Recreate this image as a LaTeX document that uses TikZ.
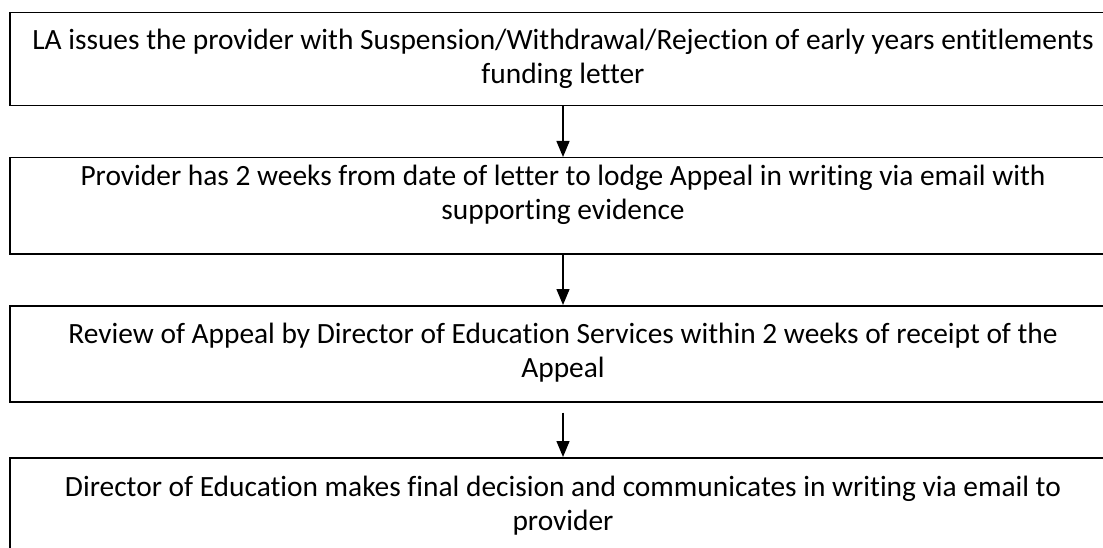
\documentclass[tikz,border=0pt]{standalone}
\usepackage{fontspec}
\setmainfont{Carlito}[Ligatures=NoCommon]
\usetikzlibrary{arrows.meta}
\begin{document}
\begin{tikzpicture}[x=1pt,y=-1pt,
  box/.style={draw=black,line width=1.5pt,minimum width=1106pt,minimum height=94pt,inner sep=0pt,anchor=north},
  txt/.style={font=\fontsize{29.4}{34}\selectfont,align=center,inner sep=0pt,anchor=base},
  flow/.style={line width=1.4pt,-{Triangle[length=16pt,width=13pt]}}]
\clip (0,0) rectangle (1103,548);
\fill[white] (0,0) rectangle (1103,548);
\node[box,minimum height=93pt] (b1) at (563,12) {};
\node[box,minimum height=96pt] (b2) at (563,157) {};
\node[box,minimum height=96pt] (b3) at (563,305) {};
\node[box,minimum height=96pt] (b4) at (563,457) {};
\node[txt] (t1) at (563,84) {LA issues the provider with Suspension/Withdrawal/Rejection of early years entitlements\\funding letter};
\node[txt] (t2) at (563,219) {Provider has 2 weeks from date of letter to lodge Appeal in writing via email with\\supporting evidence};
\node[txt] (t3) at (563,377) {Review of Appeal by Director of Education Services within 2 weeks of receipt of the\\Appeal};
\node[txt] (t4) at (563,530) {Director of Education makes final decision and communicates in writing via email to\\provider};
\draw[flow] (b1.south) -- (b2.north);
\draw[flow] (b2.south) -- (b3.north);
\draw[flow] ([yshift=-10pt]b3.south) -- (b4.north);
\end{tikzpicture}
\end{document}
